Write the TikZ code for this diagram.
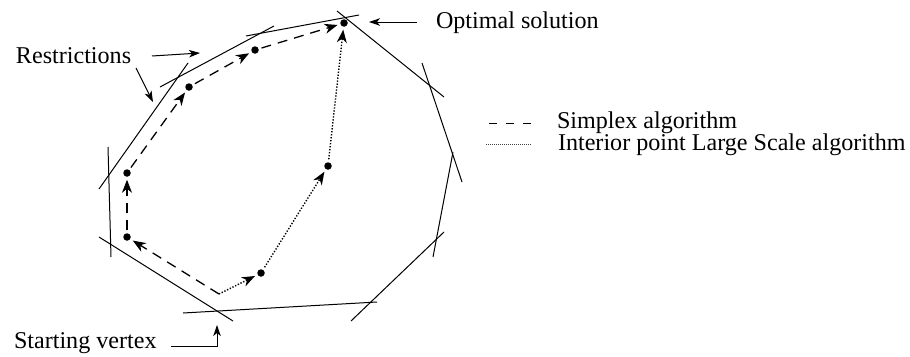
\documentclass[tikz,border=0pt]{standalone}
\usepackage{fontspec}
\setmainfont{Liberation Serif}
\usetikzlibrary{arrows.meta}
\begin{document}
\begin{tikzpicture}[x=1pt,y=-1pt,
  every node/.style={inner sep=0pt, outer sep=0pt},
  lbl/.style={font=\fontsize{24.1}{26}\selectfont, anchor=base west},
  bound/.style={line width=1pt},
  vtx/.style={circle, fill=black, minimum size=7.5pt},
  simplexpath/.style={line width=1.3pt, dash pattern=on 10pt off 7pt, -{Stealth[length=13pt,width=10pt,inset=4pt]}, shorten >=3pt, shorten <=3pt},
  interiorpath/.style={line width=1.4pt, dash pattern=on 1.3pt off 1.7pt, -{Stealth[length=13pt,width=10pt,inset=4pt]}, shorten >=3pt, shorten <=3pt},
  annarrow/.style={line width=1pt, -{Stealth[length=11pt,width=7.5pt,inset=3pt]}}
]
\useasboundingbox (0,0) rectangle (910,356);

% restriction lines
\draw[bound] (99,189) -- (188,63);
\draw[bound] (160,87) -- (274,26);
\draw[bound] (246,36) -- (359,15);
\draw[bound] (337,11) -- (444,97);
\draw[bound] (422,63) -- (462,182);
\draw[bound] (453,152) -- (433,257);
\draw[bound] (444,232) -- (351,321);
\draw[bound] (183,313) -- (377,302);
\draw[bound] (99,237) -- (233,321);
\draw[bound] (108,147) -- (111,257);

% vertices
\coordinate (p0) at (219,294);
\node[vtx] (p1) at (127,237) {};
\node[vtx] (p2) at (127,173) {};
\node[vtx] (p3) at (189,87) {};
\node[vtx] (p4) at (255,50) {};
\node[vtx] (p5) at (344,23) {};
\node[vtx] (q1) at (261,273) {};
\node[vtx] (q2) at (328,166) {};

% simplex path
\draw[simplexpath, shorten <=0pt] (p0) -- (p1);
\draw[simplexpath] (p1) -- (p2);
\draw[simplexpath] (p2) -- (p3);
\draw[simplexpath] (p3) -- (p4);
\draw[simplexpath] (p4) -- (p5);

% interior point path
\draw[interiorpath, shorten <=0pt] (p0) -- (q1);
\draw[interiorpath] (q1) -- (q2);
\draw[interiorpath] (q2) -- (p5);

% labels
\node[lbl] (restr) at (16,63) {Restrictions};
\node[lbl] (opt) at (436,28) {Optimal solution};
\node[lbl] (start) at (14,348) {Starting vertex};
\node[lbl] (simp) at (557,128) {Simplex algorithm};
\node[lbl] (inter) at (558,150) {Interior point Large Scale algorithm};

% annotation arrows
\coordinate (ra1) at (152,56);
\coordinate (ra1e) at (200,53);
\coordinate (ra2) at (136,68);
\coordinate (ra2e) at (153,102);
\draw[annarrow] (ra1) -- (ra1e);
\draw[annarrow] (ra2) -- (ra2e);
\coordinate (oa) at (417,22);
\coordinate (oae) at (369,22);
\draw[annarrow] (oa) -- (oae);
\coordinate (sa) at (171,346);
\coordinate (sae) at (217,325);
\draw[annarrow] (sa) -| (sae);

% legend
\coordinate (l1a) at (489,123);
\coordinate (l1b) at (531,123);
\coordinate (l2a) at (486,144);
\coordinate (l2b) at (531,144);
\draw[line width=1pt, dash pattern=on 8pt off 9pt] (l1a) -- (l1b);
\draw[line width=0.8pt, dash pattern=on 0.8pt off 1.2pt, black!75] (l2a) -- (l2b);
\end{tikzpicture}
\end{document}
